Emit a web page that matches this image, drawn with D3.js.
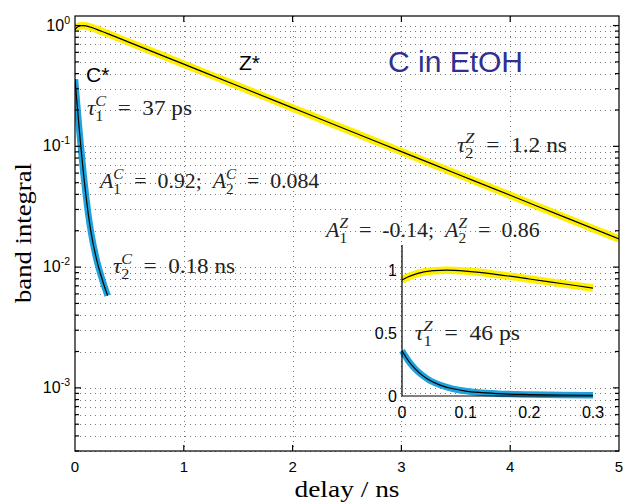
<!DOCTYPE html>
<html><head><meta charset="utf-8">
<script src="https://cdn.jsdelivr.net/npm/d3@7"></script>
<style>
body{margin:0;background:#fff}
svg{display:block}
.sans{font-family:"Liberation Sans",Arial,Helvetica,sans-serif}
.serif{font-family:"Liberation Serif","Times New Roman",serif}
</style>
</head><body>
<svg id="chart" width="624" height="504"></svg>
<script>
// Normalised band integrals (delay in ns)
const delayZ = [0,0.01,0.02,0.03,0.04,0.05,0.07,0.1,0.15,0.2,0.25,0.3,0.5,1,1.5,2,2.5,3,3.5,4,4.5,5];
const bandZ  = [0.922,0.948,0.967,0.981,0.990,0.996,1.000,0.993,0.965,0.930,0.894,0.858,0.726,0.479,0.316,0.208,0.137,0.0904,0.0596,0.0393,0.0259,0.0171];
const delayC = [0,0.01,0.02,0.03,0.04,0.05,0.06,0.08,0.1,0.12,0.15,0.2,0.25,0.3];
const bandC  = [0.360,0.280,0.219,0.172,0.136,0.108,0.0868,0.0573,0.0394,0.0283,0.0188,0.0114,0.0079,0.0058];

const xTicks = [0,1,2,3,4,5];
const yDecades = [-3,-2,-1,0];
const insetXTicks = [0,0.1,0.2,0.3];
const insetYTicks = [0,0.5,1];

const YELLOW = "#fff000", BLUE = "#1ea2dd", TITLE = "#2e3192";

const svg = d3.select("#chart");
const P = {left:75, right:619, top:16, bottom:451};
const x = d3.scaleLinear().domain([0,5]).range([P.left,P.right]);
const y = d3.scaleLog().domain([3e-4,1.2]).range([P.bottom,P.top]);

// grid values: every 1..9 x 10^k inside the domain
const gridVals = [];
for (let d=-4; d<=0; d++) for (let k=1; k<=9; k++) {
  const v = k*Math.pow(10,d);
  if (v>=y.domain()[0] && v<=y.domain()[1]) gridVals.push({v, major:k===1});
}

const grid = svg.append("g").attr("stroke","#777").attr("stroke-width",1)
  .attr("stroke-dasharray","1,4").attr("fill","none");
grid.selectAll(".h").data(gridVals).join("line")
  .attr("x1",P.left).attr("x2",P.right)
  .attr("y1",d=>Math.round(y(d.v))+0.5).attr("y2",d=>Math.round(y(d.v))+0.5);
grid.selectAll(".v").data(xTicks.slice(1,-1)).join("line")
  .attr("x1",d=>Math.round(x(d))+0.5).attr("x2",d=>Math.round(x(d))+0.5)
  .attr("y1",P.top).attr("y2",P.bottom);

// curves
svg.append("clipPath").attr("id","plotclip").append("rect")
  .attr("x",P.left).attr("y",P.top).attr("width",P.right-P.left).attr("height",P.bottom-P.top);

function drawCurve(g, xs, ys, sx, sy, color, bandW) {
  const pts = xs.map((t,i)=>[t,ys[i]]);
  const line = d3.line().x(d=>sx(d[0])).y(d=>sy(d[1])).curve(d3.curveMonotoneX);
  g.append("path").attr("d",line(pts)).attr("fill","none").attr("stroke",color)
    .attr("stroke-width",bandW).attr("stroke-linejoin","round");
  g.append("path").attr("d",line(pts)).attr("fill","none").attr("stroke","#000")
    .attr("stroke-width",1.2);
}
const curves = svg.append("g").attr("clip-path","url(#plotclip)");
drawCurve(curves, delayZ, bandZ, x, y, YELLOW, 7.5);
drawCurve(curves, delayC, bandC, x, y, BLUE, 6.5);

// axes box + inward ticks
const ax = svg.append("g").attr("stroke","#000").attr("stroke-width",1.2).attr("fill","none");
ax.append("rect").attr("x",P.left).attr("y",P.top).attr("width",P.right-P.left).attr("height",P.bottom-P.top);
xTicks.slice(1,-1).forEach(t=>{
  const px = x(t);
  ax.append("line").attr("x1",px).attr("x2",px).attr("y1",P.bottom).attr("y2",P.bottom-6);
  ax.append("line").attr("x1",px).attr("x2",px).attr("y1",P.top).attr("y2",P.top+6);
});
gridVals.forEach(d=>{
  const py = y(d.v), len = d.major?6:4;
  ax.append("line").attr("x1",P.left).attr("x2",P.left+len).attr("y1",py).attr("y2",py);
  ax.append("line").attr("x1",P.right).attr("x2",P.right-len).attr("y1",py).attr("y2",py);
});

// tick labels
svg.append("g").attr("class","sans").attr("font-size",15).attr("text-anchor","middle")
  .selectAll("text").data(xTicks).join("text")
  .attr("x",d=>x(d)).attr("y",P.bottom+21).text(d=>d);
const yl = svg.append("g").attr("class","sans").attr("text-anchor","end");
yDecades.forEach(e=>{
  const t = yl.append("text").attr("x",P.left-5).attr("y",y(Math.pow(10,e))+5).attr("font-size",16);
  t.append("tspan").text("10");
  t.append("tspan").attr("dy",-7).attr("font-size",10.5).text(e);
});

// axis titles
svg.append("text").attr("class","serif").attr("font-size",24).attr("text-anchor","middle")
  .attr("textLength",105).attr("lengthAdjust","spacingAndGlyphs")
  .attr("x",347).attr("y",497).text("delay / ns");
svg.append("text").attr("class","serif").attr("font-size",24).attr("text-anchor","middle")
  .attr("textLength",140).attr("lengthAdjust","spacingAndGlyphs")
  .attr("transform","translate(31,233) rotate(-90)").text("band integral");

// species labels and title
svg.append("text").attr("class","sans").attr("font-size",21).attr("x",86).attr("y",82).text("C*");
svg.append("text").attr("class","sans").attr("font-size",21).attr("x",239).attr("y",70).text("Z*");
svg.append("text").attr("class","sans").attr("font-size",30).attr("fill",TITLE)
  .attr("x",388).attr("y",72).text("C in EtOH");

// inline math label: plain runs, italic symbols and stacked sub/superscripts,
// stretched horizontally to the given width
function mathText(x0, y0, width, parts, size) {
  const g = svg.append("g").attr("transform",`translate(${x0},${y0})`);
  const t = g.append("text").attr("class","serif").attr("fill","#222")
    .attr("font-size",size).style("white-space","pre");
  let shift = 0;
  parts.forEach(p=>{
    if (p.sub!==undefined) {
      const s = t.append("tspan").attr("font-size",size*0.7).attr("dy",size*0.3-shift).text(p.sub);
      const w = s.node().getComputedTextLength();
      t.append("tspan").attr("font-size",size*0.7).attr("font-style","italic")
        .attr("dx",-w).attr("dy",-size*0.72).text(p.sup);
      shift = -size*0.42;
    } else {
      t.append("tspan").attr("dy",-shift).attr("font-style",p.it?"italic":null).text(p.t);
      shift = 0;
    }
  });
  const bw = t.node().getBBox().width;
  t.attr("transform",`scale(${width/bw},1)`);
}
const MS = 21;
mathText(87,115,105,[{t:"τ",it:1},{sub:"1",sup:"C"},{t:"  =  37 ps"}],MS);
mathText(100,188,222,[{t:"A",it:1},{sub:"1",sup:"C"},{t:"  =  0.92;  "},{t:"A",it:1},{sub:"2",sup:"C"},{t:"  =  0.084"}],MS);
mathText(113,273,122,[{t:"τ",it:1},{sub:"2",sup:"C"},{t:"  =  0.18 ns"}],MS);
mathText(457,152,110,[{t:"τ",it:1},{sub:"2",sup:"Z"},{t:"  =  1.2 ns"}],MS);
mathText(326,237,216,[{t:"A",it:1},{sub:"1",sup:"Z"},{t:"  =  -0.14;  "},{t:"A",it:1},{sub:"2",sup:"Z"},{t:"  =  0.86"}],MS);
mathText(415,340,105,[{t:"τ",it:1},{sub:"1",sup:"Z"},{t:"  =  46 ps"}],MS);

// inset: linear view of the first 0.3 ns
const ix = d3.scaleLinear().domain([0,0.3]).range([402,593]);
const iy = d3.scaleLinear().domain([0,1.2]).range([396,245]);
const inset = svg.append("g");
const zIdx = delayZ.map((t,i)=>i).filter(i=>delayZ[i]<=0.3);
drawCurve(inset, zIdx.map(i=>delayZ[i]), zIdx.map(i=>bandZ[i]), ix, iy, YELLOW, 7.5);
drawCurve(inset, delayC, bandC, ix, iy, BLUE, 6.5);
inset.append("path").attr("d",`M${ix(0)},${iy(1.2)}V${iy(0)}H${ix(0.3)}`)
  .attr("fill","none").attr("stroke","#000").attr("stroke-width",1.2);
inset.append("g").attr("class","sans").attr("font-size",16).attr("text-anchor","middle")
  .selectAll("text").data(insetXTicks).join("text")
  .attr("x",d=>ix(d)).attr("y",iy(0)+22).text(d=>d);
inset.append("g").attr("class","sans").attr("font-size",16).attr("text-anchor","end")
  .selectAll("text").data(insetYTicks).join("text")
  .attr("x",ix(0)-5).attr("y",d=>iy(d)+6).text(d=>d);
</script>
</body></html>
